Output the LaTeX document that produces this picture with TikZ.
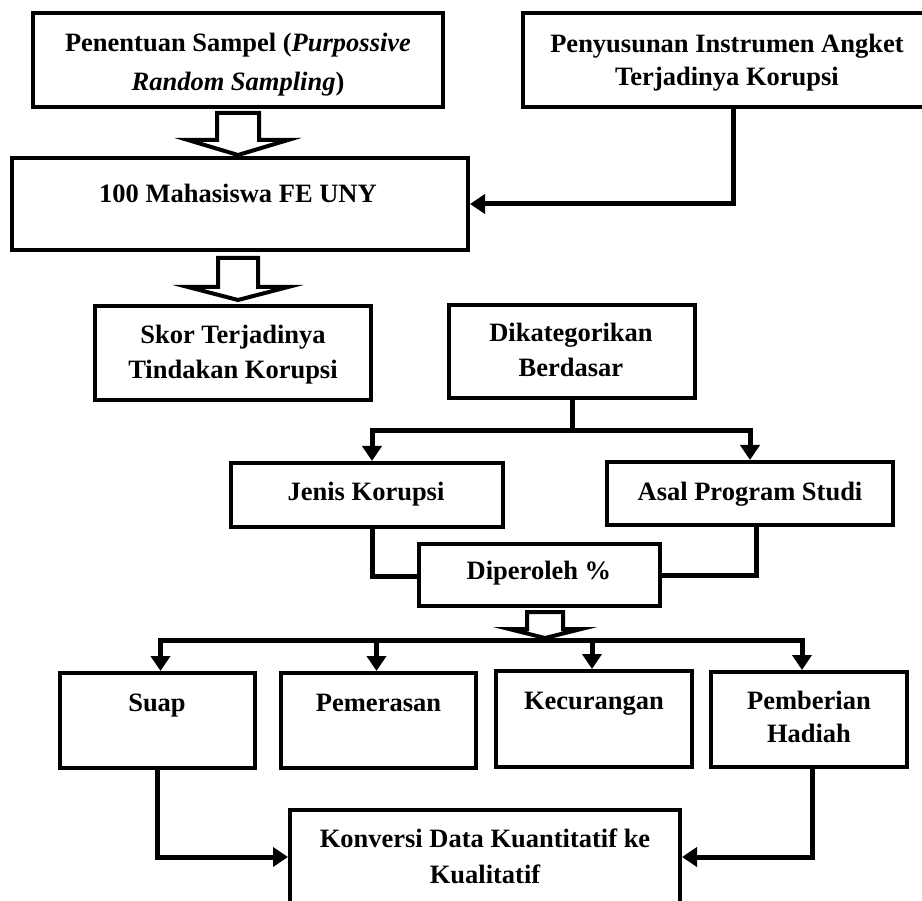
\documentclass[tikz,border=0pt]{standalone}
\usepackage{fontspec}
\setmainfont{Liberation Serif}
\usetikzlibrary{arrows.meta,calc}
\tikzset{
  box/.style={draw, line width=4pt, inner sep=0pt},
  txt/.style={font=\fontsize{26.5}{33}\selectfont\bfseries, align=center, inner sep=0pt},
  conn/.style={line width=5pt, -{Triangle[length=15pt,width=19pt]}},
  link/.style={line width=5pt},
  blockarrow/.style={draw, line width=4pt, fill=white, line join=miter},
}
\begin{document}
\begin{tikzpicture}[x=1pt,y=-1pt]
\clip (0,0) rectangle (922,901);
\fill[white] (0,0) rectangle (922,901);

% boxes
\node[box, minimum width=410pt, minimum height=94pt] (b1) at (238,60) {};
\node[box, minimum width=408pt, minimum height=94pt] (b3) at (727,60) {};
\node[box, minimum width=456pt, minimum height=92pt] (b2) at (240,204) {};
\node[box, minimum width=276pt, minimum height=94pt] (skor) at (233,353) {};
\node[box, minimum width=246pt, minimum height=93pt] (dikat) at (572,351.5) {};
\node[box, minimum width=272pt, minimum height=64pt] (jenis) at (367,495) {};
\node[box, minimum width=286pt, minimum height=63pt] (asal) at (750,493.5) {};
\node[box, minimum width=241pt, minimum height=62pt] (diper) at (539.5,574.5) {};
\node[box, minimum width=195pt, minimum height=95pt] (suap) at (157.5,720.5) {};
\node[box, minimum width=195pt, minimum height=95pt] (pemer) at (378.5,720.5) {};
\node[box, minimum width=196pt, minimum height=96pt] (kecur) at (594,719) {};
\node[box, minimum width=196pt, minimum height=95pt] (pember) at (809,719.5) {};
\node[box, minimum width=390pt, minimum height=94pt] (konv) at (485,857) {};

% texts
\node[txt, font=\fontsize{26.5}{39}\selectfont\bfseries] (t1) at (238,64.5) {Penentuan Sampel (\textit{Purpossive}\\\textit{Random Sampling})};
\node[txt] (t3) at (727,62.3) {Penyusunan Instrumen Angket\\Terjadinya Korupsi};
\node[txt] (t2) at (238,193) {100 Mahasiswa FE UNY};
\node[txt, font=\fontsize{26.5}{35}\selectfont\bfseries] (tskor) at (233,354.4) {Skor Terjadinya\\Tindakan Korupsi};
\node[txt, font=\fontsize{26.5}{35}\selectfont\bfseries] (tdikat) at (571,350.4) {Dikategorikan\\Berdasar};
\node[txt] (tjenis) at (366,493.8) {Jenis Korupsi};
\node[txt] (tasal) at (750,493.8) {Asal Program Studi};
\node[txt] (tdiper) at (539,573) {Diperoleh \%};
\node[txt] (tsuap) at (157,706) {Suap};
\node[txt] (tpemer) at (378.5,703) {Pemerasan};
\node[txt] (tkecur) at (594,704) {Kecurangan};
\node[txt] (tpember) at (809,717.4) {Pemberian\\Hadiah};
\node[txt, font=\fontsize{26.5}{36}\selectfont\bfseries] (tkonv) at (485,855.9) {Konversi Data Kuantitatif ke\\Kualitatif};

% block arrows
\draw[blockarrow] (217,113) -- (259,113) -- (259,140) -- (288,140) -- (238,155) -- (188,140) -- (217,140) -- cycle;
\draw[blockarrow] (218,258) -- (258,258) -- (258,287) -- (288,287) -- (238,300) -- (188,287) -- (218,287) -- cycle;
\draw[blockarrow] (527,612) -- (563,612) -- (563,629) -- (581,629) -- (545,638) -- (509,629) -- (527,629) -- cycle;

% connectors
\draw[conn] ([xshift=6pt]b3.south) |- (b2.east);
\draw[conn] (dikat.south) -- ++(0,31) -| ([xshift=5pt]jenis.north);
\draw[conn] (dikat.south) -- ++(0,31) -| (asal.north);
\draw[link] ([xshift=5pt]jenis.south) |- ([yshift=-2pt]diper.west);
\draw[link] ([xshift=6pt]asal.south) |- ([yshift=-1pt]diper.east);
\coordinate (bar) at (545,640);
\draw[conn] (bar) -| ([xshift=3pt]suap.north);
\draw[conn] (bar) -| ([xshift=-2pt]pemer.north);
\draw[conn] (bar) -| ([xshift=-2pt]kecur.north);
\draw[conn] (bar) -| ([xshift=-7pt]pember.north);
\draw[conn] (suap.south) |- (konv.west);
\draw[conn] ([xshift=3pt]pember.south) |- (konv.east);
\end{tikzpicture}
\end{document}
